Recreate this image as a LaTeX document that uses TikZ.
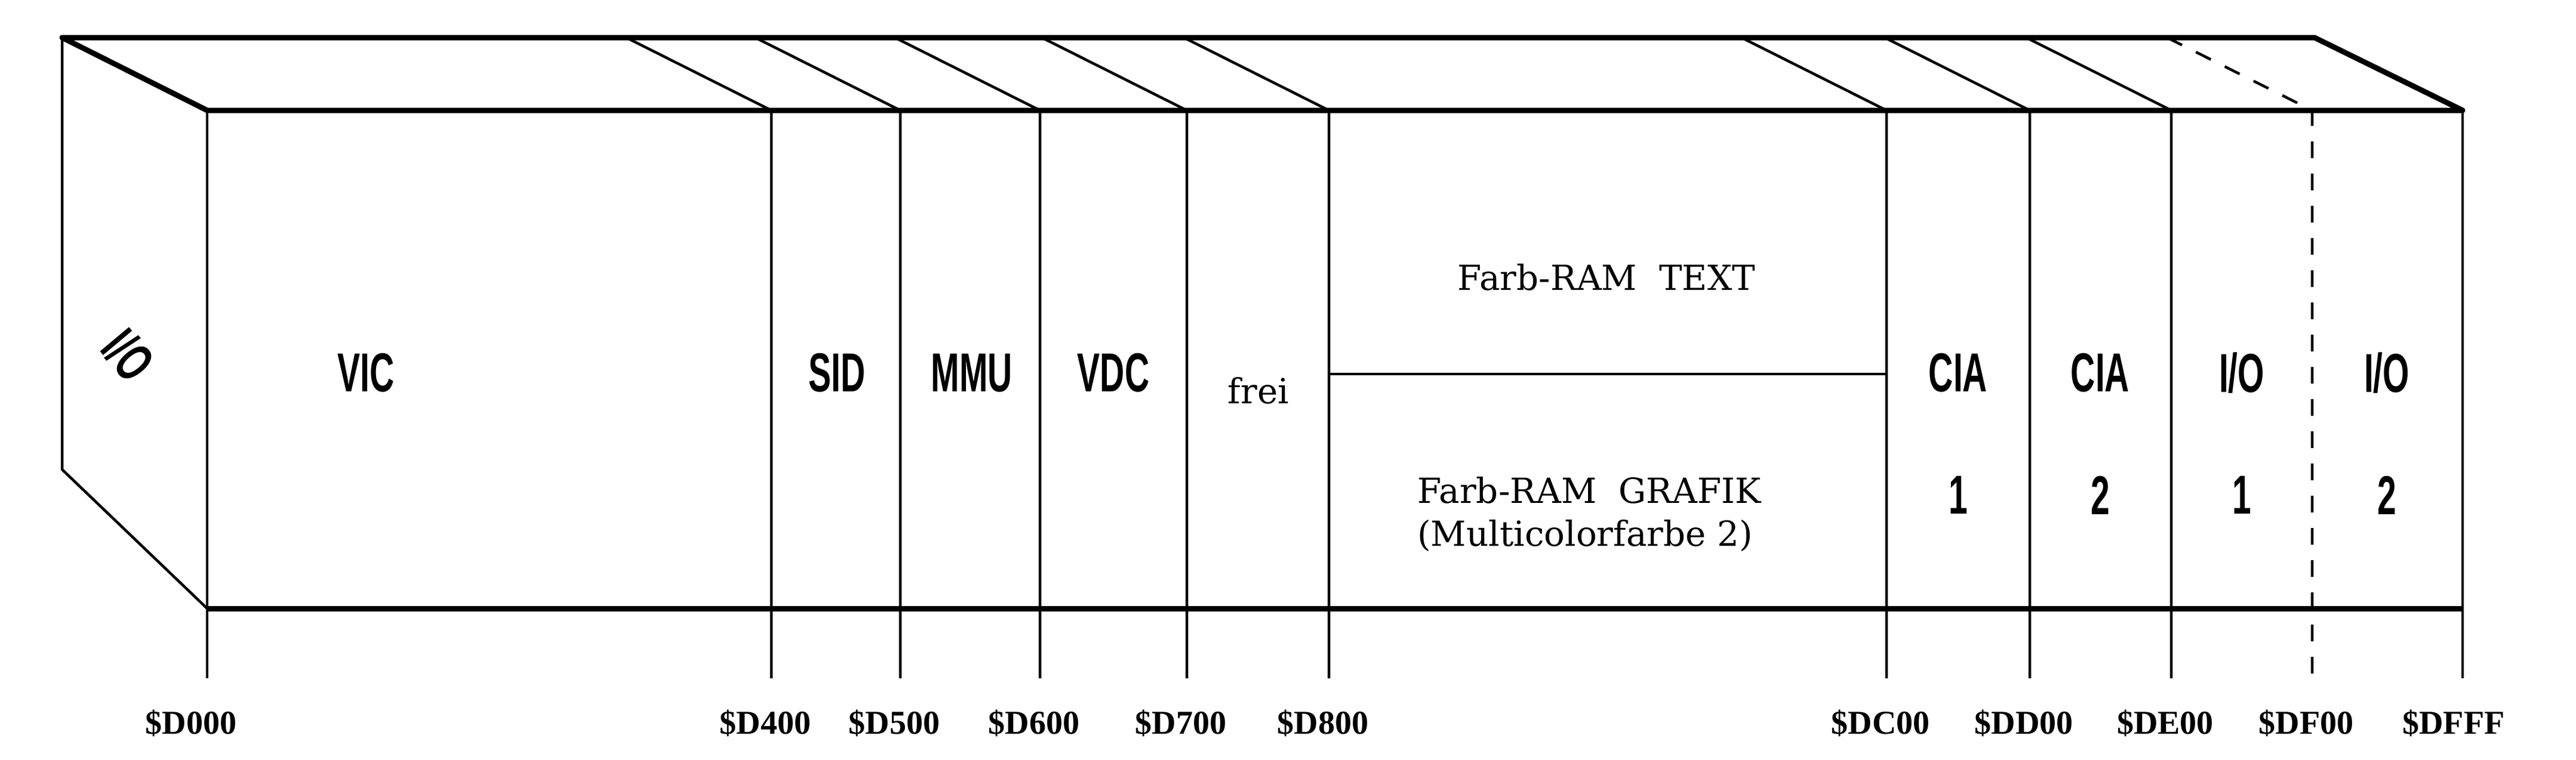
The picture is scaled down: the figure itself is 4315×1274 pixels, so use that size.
\documentclass[tikz,border=0pt]{standalone}
\usepackage{fontspec}
\setmainfont{Liberation Serif}
\newfontfamily\condfont{Liberation Sans}[FakeStretch=0.62]
\newfontfamily\widefont{DejaVu Serif}
\usetikzlibrary{positioning}

\tikzset{
  thickline/.style={line width=9pt,line join=round},
  thinline/.style={line width=4.5pt},
  chip/.style={font=\condfont\bfseries\fontsize{92}{94}\selectfont,inner sep=0pt},
  addr/.style={font=\bfseries\fontsize{56}{60}\selectfont,inner sep=0pt},
  txt/.style={font=\widefont\fontsize{58}{72}\selectfont,inner sep=0pt,align=center}
}

\begin{document}
\begin{tikzpicture}[x=1pt,y=-1pt]
    \useasboundingbox (0,0) rectangle (4315,1274);

    % front corners and depth
    \coordinate (FL) at (347,185);
    \coordinate (FR) at (4125,185);
    \coordinate (BL) at (104,63);
    \coordinate (BR) at (3877,63);

    % outline
    \draw[thickline] (BL) -- (BR) -- (FR) -- (FL) -- cycle;
    \draw[thinline] (FL) -- (347,1020) -- (4125,1020) -- (FR);
    \draw[thinline] (BL) -- (104,787) -- (347,1020);
    \draw[thickline] (347,1020) -- (4125,1020);

    % dividers with top slants and ticks
    \foreach \x/\name in {1292/D400,1508/D500,1742/D600,1988/D700,2226/D800,3160/DC00,3400/DD00,3637/DE00}{
      \draw[thinline] (\x-243,63) -- (\x,185) -- (\x,1137);
      \node[addr] (a\name) at (\x-10,1212) {\$\name};
    }
    \draw[thinline,dash pattern=on 28pt off 26pt] (3873-243,63) -- (3873,185) -- (3873,1137);
    \node[addr] (aDF00) at (3863,1212) {\$DF00};
    \draw[thinline] (347,1020) -- (347,1137);
    \node[addr] (aD000) at (320,1212) {\$D000};
    \draw[thinline] (4125,1020) -- (4125,1137);
    \node[addr] (aDFFF) at (4110,1212) {\$DFFF};

    % Farb-RAM split
    \draw[thinline] (2226,627) -- (3160,627);

    % labels
    \node[chip,rotate=-50] (io0) at (215,595) {I/O};
    \node[chip] (vic) at (613,625) {VIC};
    \node[chip] (sid) at (1402,625) {SID};
    \node[chip] (mmu) at (1628,625) {MMU};
    \node[chip] (vdc) at (1865,625) {VDC};
    \node[txt] (frei) at (2108,655) {frei};
    \node[txt] (text) at (2691,465) {Farb-RAM\ \ TEXT};
    \node[txt,align=left] (grafik) at (2662,862) {Farb-RAM\ \ GRAFIK\\(Multicolorfarbe 2)};
    \node[chip] (cia1) at (3280,625) {CIA};
    \node[chip] (cia1n) at (3280,830) {1};
    \node[chip] (cia2) at (3518,625) {CIA};
    \node[chip] (cia2n) at (3518,830) {2};
    \node[chip] (io1) at (3755,625) {I/O};
    \node[chip] (io1n) at (3755,830) {1};
    \node[chip] (io2) at (3998,625) {I/O};
    \node[chip] (io2n) at (3998,830) {2};
\end{tikzpicture}
\end{document}
